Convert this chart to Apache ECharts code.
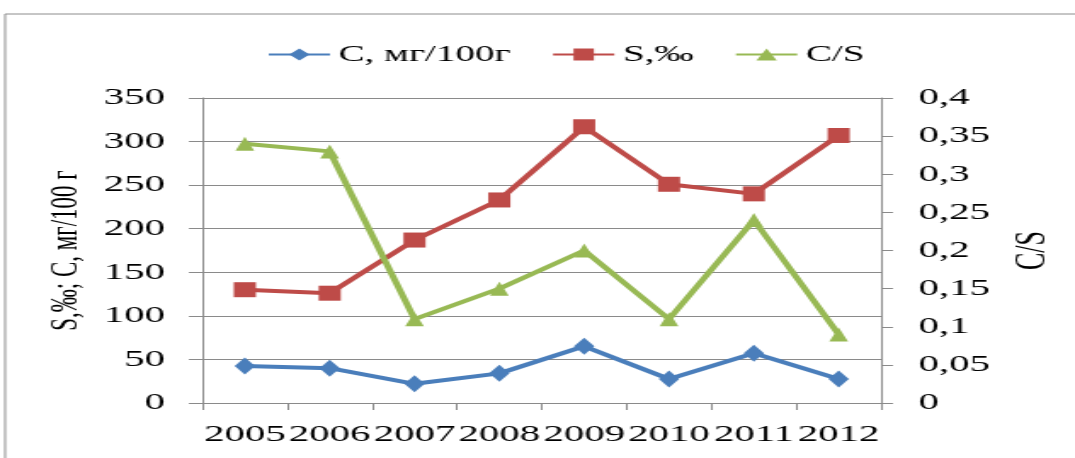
<!DOCTYPE html>
<html>
<head>
<meta charset="utf-8">
<script src="https://cdn.jsdelivr.net/npm/echarts@6/dist/echarts.min.js"></script>
<style>
    html, body { margin: 0; padding: 0; background: #fff; overflow: hidden; }
    /* the reference is stretched horizontally, so the chart is drawn narrow and widened */
    #chart { width: 632px; height: 458px; transform: scaleX(1.70095); transform-origin: 0 0; }
</style>
</head>
<body>
<div id="chart"></div>
<script>
// 數據
const years = ['2005', '2006', '2007', '2008', '2009', '2010', '2011', '2012'];
const cValues = [42.5, 40, 22, 34, 65, 27.5, 57, 27.5];
const sValues = [130, 126, 187, 233, 317, 251, 240, 307];
const csValues = [0.34, 0.33, 0.11, 0.15, 0.2, 0.11, 0.24, 0.09];

const leftTicks = { min: 0, max: 350, interval: 50 };
const rightTicks = { min: 0, max: 0.4, interval: 0.05 };

document.addEventListener("DOMContentLoaded", function () {
    const chart = echarts.init(document.getElementById('chart'));
    const font = 'Liberation Serif';
    const gray = '#8a8a8a';

    chart.setOption({
        backgroundColor: '#fff',
        textStyle: { fontFamily: font, color: '#000' },
        graphic: [{
            type: 'rect',
            shape: { x: 3, y: 14, width: 700, height: 500 },
            style: { fill: 'none', stroke: '#8c8c8c', lineWidth: 1 }
        }],
        legend: {
            left: 152,
            top: 38,
            itemWidth: 36,
            itemHeight: 15,
            itemGap: 24,
            textStyle: { fontFamily: font, fontSize: 23, color: '#000' },
            data: ['C, мг/100г', 'S,‰', 'C/S']
        },
        grid: { left: 119, right: 114, top: 98, bottom: 55 },
        xAxis: {
            type: 'category',
            data: years,
            boundaryGap: true,
            axisLine: { lineStyle: { color: gray, width: 1 } },
            axisTick: { show: true, length: 7, lineStyle: { color: gray } },
            axisLabel: { interval: 0, margin: 20, fontFamily: font, fontSize: 24, color: '#000' }
        },
        yAxis: [
            {
                type: 'value',
                min: leftTicks.min,
                max: leftTicks.max,
                interval: leftTicks.interval,
                name: 'S,‰; C, мг/100 г',
                nameLocation: 'middle',
                nameRotate: 90,
                nameGap: 53,
                nameTextStyle: { fontFamily: font, fontSize: 23, color: '#000' },
                axisLine: { show: true, lineStyle: { color: gray, width: 1 } },
                axisTick: { show: true, length: 8, lineStyle: { color: gray } },
                axisLabel: { margin: 22, fontFamily: font, fontSize: 24, color: '#000' },
                splitLine: { lineStyle: { color: gray, width: 1 } }
            },
            {
                type: 'value',
                position: 'right',
                min: rightTicks.min,
                max: rightTicks.max,
                interval: rightTicks.interval,
                name: 'C/S',
                nameLocation: 'middle',
                nameRotate: 90,
                nameGap: 76,
                nameTextStyle: { fontFamily: font, fontSize: 26, color: '#000' },
                axisLine: { show: true, lineStyle: { color: gray, width: 1 } },
                axisTick: { show: true, length: 7, lineStyle: { color: gray } },
                axisLabel: {
                    margin: 22,
                    fontFamily: font,
                    fontSize: 24,
                    color: '#000',
                    formatter: function (v) { return String(+v.toFixed(2)).replace('.', ','); }
                },
                splitLine: { show: false }
            }
        ],
        series: [
            {
                name: 'C, мг/100г',
                type: 'line',
                yAxisIndex: 0,
                data: cValues,
                symbol: 'diamond',
                symbolSize: [12, 17],
                color: '#4a7ebb',
                lineStyle: { width: 4 }
            },
            {
                name: 'S,‰',
                type: 'line',
                yAxisIndex: 0,
                data: sValues,
                symbol: 'rect',
                symbolSize: [13, 15],
                color: '#be4b48',
                lineStyle: { width: 4 }
            },
            {
                name: 'C/S',
                type: 'line',
                yAxisIndex: 1,
                data: csValues,
                symbol: 'triangle',
                symbolSize: [11, 14],
                color: '#98b954',
                lineStyle: { width: 4 }
            }
        ]
    });
});
</script>
</body>
</html>
